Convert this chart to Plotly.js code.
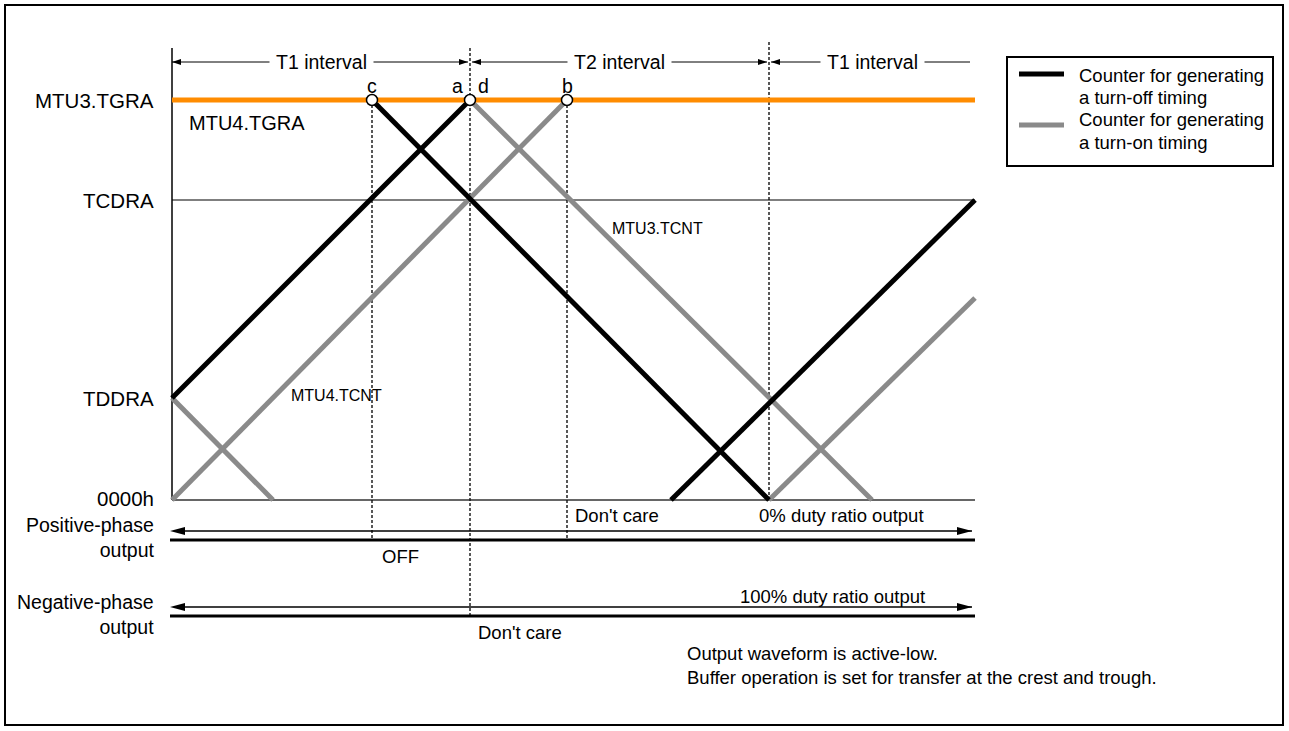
<!DOCTYPE html>
<html>
<head>
<meta charset="utf-8">
<script src="https://cdn.plot.ly/plotly-3.0.1.min.js"></script>
<style>html,body{margin:0;padding:0;background:#fff;}#chart{width:1289px;height:731px;}</style>
</head>
<body>
<div id="chart"></div>
<script>
// ---- data (x: time units, y: counter value units) ----
const levelNames  = ['MTU3.TGRA', 'TCDRA', 'TDDRA', '0000h'];
const levelValues = [400, 300, 102, 0];
const periodEnd = 803;

// timing points c, a, d, b and the trough boundary
const pointLabels = ['c', 'a', 'd', 'b'];
const pointX      = [200, 298, 298, 395];
const troughX     = 597;

// counter for generating a turn-off timing (black)
const turnOffX = [0, 298, null, 200, 597, null, 499, 803];
const turnOffY = [102, 400, null, 400, 0, null, 0, 300];
// counter for generating a turn-on timing (gray)
const turnOnX = [0, 395, null, 0, 101, null, 298, 700, null, 597, 803];
const turnOnY = [0, 400, null, 102, 0, null, 400, 0, null, 0, 202];

const intervalNames = ['T1 interval', 'T2 interval', 'T1 interval'];
const intervalStart = [0, 298, 597];
const intervalEnd   = [298, 597, 798];

const legendNames = ['Counter for generating<br>a turn-off timing', 'Counter for generating<br>a turn-on timing'];

// ---- styling ----
const FONT = 'Liberation Sans, Arial, Helvetica, sans-serif';
const FS = 19;
const BLACK = '#000000', GRAY = '#8a8a8a', ORANGE = '#FF8C00';

const traces = [];
function line(x, y, color, width, dash) {
  traces.push({type: 'scatter', mode: 'lines', x: x, y: y, hoverinfo: 'skip', showlegend: false,
    line: {color: color, width: width, dash: dash || 'solid'}});
}

// axis-like lines
line([0, periodEnd], [0, 0], '#333333', 1.5);
line([0, periodEnd], [levelValues[1], levelValues[1]], BLACK, 1.2);
line([0, 0], [452, 0], BLACK, 1.5);

// dashed verticals
line([pointX[0], pointX[0], null, pointX[1], pointX[1], null, pointX[3], pointX[3], null, troughX, troughX],
     [400, -40, null, 452, -116, null, 400, -40, null, 458, 0], '#111111', 1.4, '3px,2px');

// counters
traces.push({type: 'scatter', mode: 'lines', name: 'Counter for generating a turn-on timing', x: turnOnX, y: turnOnY,
  line: {color: GRAY, width: 5}, hoverinfo: 'skip', showlegend: false});
traces.push({type: 'scatter', mode: 'lines', name: 'Counter for generating a turn-off timing', x: turnOffX, y: turnOffY,
  line: {color: BLACK, width: 5}, hoverinfo: 'skip', showlegend: false});

// TGRA line
line([0, periodEnd], [levelValues[0], levelValues[0]], ORANGE, 5);

// circles at c, a/d, b
traces.push({type: 'scatter', mode: 'markers', x: [pointX[0], pointX[1], pointX[3]], y: [400, 400, 400],
  marker: {size: 11, color: '#ffffff', line: {color: BLACK, width: 1.5}}, hoverinfo: 'skip', showlegend: false});

// interval arrows
const intY = 438;
for (let i = 0; i < intervalStart.length; i++) {
  line([intervalStart[i] + (i === 0 ? 0 : 2), intervalEnd[i] - (i === 2 ? 0 : 2)], [intY, intY], BLACK, 1);
}

// output lines
const posArrowY = -31, posLineY = -40, negArrowY = -107, negLineY = -116;
line([2, periodEnd - 3], [posArrowY, posArrowY], BLACK, 1.5);
line([-2, periodEnd], [posLineY, posLineY], BLACK, 3);
line([2, periodEnd - 3], [negArrowY, negArrowY], BLACK, 1.5);
line([-2, periodEnd], [negLineY, negLineY], BLACK, 3);

// legend samples
line([847, 892], [426, 426], BLACK, 5);
line([847, 892], [375, 375], GRAY, 5);

// ---- shapes: arrowheads, frame, legend box ----
function head(tipX, tipY, dir, len, half) {
  const bx = tipX - dir * len;
  return {type: 'path', xref: 'x', yref: 'y', layer: 'above',
    path: `M ${tipX},${tipY} L ${bx},${tipY + half} L ${bx},${tipY - half} Z`,
    fillcolor: BLACK, line: {color: BLACK, width: 0}};
}
const shapes = [];
// interval heads
shapes.push(head(intervalStart[0], intY, -1, 9, 3));
shapes.push(head(intervalEnd[0] - 2, intY, 1, 9, 3));
shapes.push(head(intervalStart[1] + 2, intY, -1, 9, 3));
shapes.push(head(intervalEnd[1] - 2, intY, 1, 9, 3));
shapes.push(head(intervalStart[2] + 2, intY, -1, 9, 3));
// output heads
shapes.push(head(-2, posArrowY, -1, 15, 4));
shapes.push(head(periodEnd - 3, posArrowY, 1, 15, 4));
shapes.push(head(-2, negArrowY, -1, 15, 4));
shapes.push(head(periodEnd - 3, negArrowY, 1, 15, 4));
// frame
shapes.push({type: 'rect', xref: 'paper', yref: 'paper', x0: 5/1289, x1: 1283/1289, y0: 1 - 725/731, y1: 1 - 5/731,
  line: {color: BLACK, width: 2}, fillcolor: 'rgba(0,0,0,0)'});
// legend box
shapes.push({type: 'rect', xref: 'x', yref: 'y', x0: 835, x1: 1101, y0: 334, y1: 443,
  line: {color: BLACK, width: 2}, fillcolor: 'rgba(0,0,0,0)'});

// ---- annotations ----
const ann = [];
function txt(x, y, text, xanchor, size, extra) {
  ann.push(Object.assign({x: x, y: y, xref: 'x', yref: 'y', text: text, showarrow: false,
    xanchor: xanchor || 'center', yanchor: 'middle', font: {family: FONT, size: size || FS, color: BLACK}}, extra || {}));
}
// level labels
const levelLabelY = [400, 300, 102, 2];
levelNames.forEach((n, i) => txt(-16, levelLabelY[i], n, 'right', 20.5));
txt(-16, -37, 'Positive-phase<br>output', 'right', 19.5, {align: 'right'});
txt(-16, -114, 'Negative-phase<br>output', 'right', 19.5, {align: 'right'});

// interval labels (white background covers the arrow line)
intervalNames.forEach((n, i) => {
  const cx = i === 2 ? 700 : (intervalStart[i] + intervalEnd[i]) / 2;
  txt(cx, intY, n, 'center', 19.5, {bgcolor: '#ffffff', borderpad: 6});
});

// point letters
const letterX = [200, 285, 311, 395];
pointLabels.forEach((l, i) => txt(letterX[i], 414, l, 'center', 19.5));

// counter names
txt(15, 377, 'MTU4.TGRA', 'left', 20);
txt(438, 272, 'MTU3.TCNT', 'left', 16);
txt(117, 105, 'MTU4.TCNT', 'left', 16);

// output texts
const OS = 18.5;
txt(401, -15, "Don't care", 'left', OS);
txt(585, -15, '0% duty ratio output', 'left', OS);
txt(228, -56, 'OFF', 'center', OS);
txt(566, -96, '100% duty ratio output', 'left', OS);
txt(304, -132, "Don't care", 'left', OS);
txt(513, -153, 'Output waveform is active-low.', 'left', OS);
txt(513, -177, 'Buffer operation is set for transfer at the crest and trough.', 'left', OS);

// legend texts
const legY = [425, 403, 381, 358];
const legLines = legendNames.join('<br>').split('<br>');
legLines.forEach((t, i) => txt(905, legY[i], t, 'left', 18.5));

const layout = {
  width: 1289, height: 731, autosize: false,
  margin: {l: 0, r: 0, t: 0, b: 0, pad: 0},
  paper_bgcolor: '#ffffff', plot_bgcolor: '#ffffff',
  showlegend: false,
  font: {family: FONT, size: FS, color: BLACK},
  xaxis: {range: [-172, 1117], visible: false, fixedrange: true},
  yaxis: {range: [-231, 500], visible: false, fixedrange: true},
  shapes: shapes,
  annotations: ann
};

Plotly.newPlot('chart', traces, layout, {displayModeBar: false, staticPlot: true});
</script>
</body>
</html>
